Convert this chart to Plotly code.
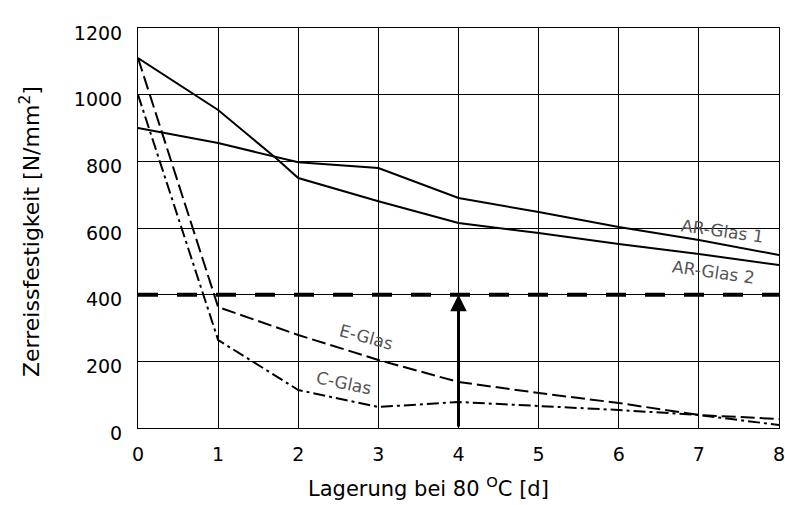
import plotly.graph_objects as go

# ---- data ----
days_ar1 = [0, 1, 2, 3, 4, 5, 6, 7, 8]
ar_glas_1 = [900, 855, 797, 780, 690, 648, 603, 564, 519]

days_ar2 = [0, 1, 1.72, 2, 3, 4, 5, 6, 7, 8]
ar_glas_2 = [1110, 954, 810, 750, 680, 615, 585, 552, 522, 489]

days_e = [0, 1, 2, 3, 4, 5, 6, 7, 8]
e_glas = [1110, 363, 279, 204, 138, 105, 75, 39, 27]

days_c = [0, 1, 2, 3, 4, 5, 6, 7, 8]
c_glas = [1000, 264, 114, 63, 78, 66, 54, 39, 9]

threshold = 400
arrow_day = 4

x_ticks = [0, 1, 2, 3, 4, 5, 6, 7, 8]
y_ticks = [0, 200, 400, 600, 800, 1000, 1200]

W, H = 785, 505
L, R, T, B = 138, 6, 28, 77
PW, PH = W - L - R, H - T - B


def px(xp):
    return (xp - L) / PW


def py(yp):
    return (H - yp - B) / PH


fig = go.Figure()

fig.add_trace(go.Scatter(x=days_ar1, y=ar_glas_1, mode="lines",
                         line=dict(color="black", width=2), name="AR-Glas 1"))
fig.add_trace(go.Scatter(x=days_ar2, y=ar_glas_2, mode="lines",
                         line=dict(color="black", width=2), name="AR-Glas 2"))
fig.add_trace(go.Scatter(x=days_e, y=e_glas, mode="lines",
                         line=dict(color="black", width=2, dash="14px,5px"), name="E-Glas"))
fig.add_trace(go.Scatter(x=days_c, y=c_glas, mode="lines",
                         line=dict(color="black", width=2, dash="12px,4px,3px,4px"), name="C-Glas"))
fig.add_trace(go.Scatter(x=[x_ticks[0], x_ticks[-1]], y=[threshold, threshold], mode="lines",
                         line=dict(color="black", width=4, dash="20px,19px"), name="Grenze"))

FONT = "DejaVu Sans"
tick_font = dict(family=FONT, size=19, color="black")

fig.update_layout(
    width=W, height=H,
    margin=dict(l=L, r=R, t=T, b=B, pad=0, autoexpand=False),
    paper_bgcolor="white", plot_bgcolor="white",
    showlegend=False,
    xaxis=dict(range=[0, 8], tickvals=x_ticks, showgrid=True, gridcolor="black", gridwidth=1,
               showline=True, linecolor="black", linewidth=1, mirror=True, zeroline=False,
               ticks="", tickfont=tick_font, ticklabelstandoff=9, automargin=False,
               ticklabeloverflow="allow"),
    yaxis=dict(range=[0, 1200], tickvals=y_ticks, showgrid=True, gridcolor="black", gridwidth=1,
               showline=True, linecolor="black", linewidth=1, mirror=True, zeroline=False,
               ticks="", tickfont=tick_font, ticklabelstandoff=11, ticklabelshift=5,
               automargin=False, ticklabeloverflow="allow"),
)

# arrow at day 4 from 0 up to threshold
fig.add_annotation(x=arrow_day, y=threshold, ax=arrow_day, ay=0, xref="x", yref="y",
                   axref="x", ayref="y", showarrow=True, arrowhead=2, arrowsize=1.1,
                   arrowwidth=3, arrowcolor="black", text="")

lab_font = dict(family=FONT, size=17, color="#555555")
labels = [("AR-Glas 1", 722, 231, 8), ("AR-Glas 2", 713, 272, 8),
          ("E-Glas", 366, 337, 15), ("C-Glas", 344, 383, 12)]
for txt, xp, yp, ang in labels:
    fig.add_annotation(x=px(xp), y=py(yp), xref="paper", yref="paper", text=txt,
                       showarrow=False, textangle=ang, font=lab_font,
                       xanchor="center", yanchor="middle")

title_font = dict(family=FONT, size=21, color="black")
fig.add_annotation(x=px(428), y=py(487), xref="paper", yref="paper", showarrow=False,
                   xanchor="center", yanchor="middle",
                   text="Lagerung bei 80 <sup>O</sup>C [d]", font=title_font)
fig.add_annotation(x=px(30), y=py(232), xref="paper", yref="paper", showarrow=False,
                   xanchor="center", yanchor="middle", textangle=-90,
                   text="Zerreissfestigkeit [N/mm<sup>2</sup>]",
                   font=dict(family=FONT, size=22, color="black"))

fig.write_html("out.html")
